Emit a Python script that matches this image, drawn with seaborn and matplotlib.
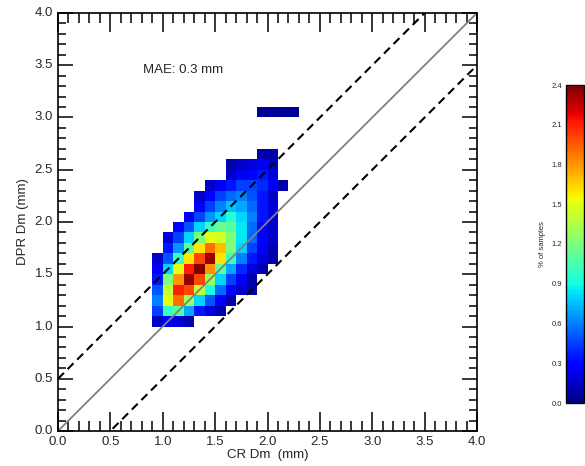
import numpy as np
import matplotlib
matplotlib.use("Agg")
import matplotlib.pyplot as plt
import seaborn as sns

# 2D histogram of Dm, 0.1 mm bins, 0-4 mm on both axes
bin_mm = 0.1
axis_max = 4.0

# each row: lower y edge (mm), lower x edge of first filled bin (mm), % of samples
row_y = [1.0, 1.1, 1.2, 1.3, 1.4, 1.5, 1.6, 1.7, 1.8, 1.9,
         2.0, 2.1, 2.2, 2.3, 2.4, 2.5, 2.6, 3.0]
row_x0 = [0.9, 0.9, 0.9, 0.9, 0.9, 0.9, 0.9, 1.0, 1.0, 1.1,
          1.2, 1.3, 1.3, 1.4, 1.6, 1.6, 1.9, 1.9]
row_pct = [
    [0.15, 0.25, 0.2, 0.1],
    [0.45, 1.0, 1.1, 0.7, 0.35, 0.2, 0.1],
    [0.6, 1.5, 1.9, 1.3, 0.8, 0.5, 0.25, 0.1],
    [0.5, 1.4, 2.1, 2.0, 1.4, 0.9, 0.55, 0.3, 0.15, 0.1],
    [0.35, 1.2, 1.8, 2.35, 2.0, 1.3, 0.8, 0.45, 0.25, 0.1],
    [0.25, 0.8, 1.5, 2.1, 2.4, 1.8, 1.1, 0.7, 0.4, 0.2, 0.1],
    [0.15, 0.5, 1.0, 1.6, 2.0, 2.35, 1.6, 1.0, 0.6, 0.35, 0.2, 0.1],
    [0.35, 0.65, 1.1, 1.6, 1.9, 1.7, 1.2, 0.8, 0.45, 0.25, 0.1],
    [0.2, 0.45, 0.8, 1.2, 1.5, 1.45, 1.2, 0.85, 0.55, 0.3, 0.15],
    [0.3, 0.5, 0.8, 1.0, 1.15, 1.1, 0.85, 0.55, 0.3, 0.15],
    [0.25, 0.45, 0.65, 0.8, 0.95, 0.8, 0.6, 0.35, 0.2],
    [0.3, 0.45, 0.6, 0.75, 0.7, 0.55, 0.35, 0.2],
    [0.15, 0.3, 0.45, 0.55, 0.6, 0.5, 0.35, 0.15],
    [0.15, 0.25, 0.35, 0.45, 0.45, 0.4, 0.25, 0.1],
    [0.15, 0.25, 0.3, 0.35, 0.2],
    [0.1, 0.15, 0.2, 0.25, 0.15],
    [0.1, 0.1],
    [0.05, 0.05, 0.05, 0.05],
]

cb_ticks = [0.0, 0.3, 0.6, 0.9, 1.2, 1.5, 1.8, 2.1, 2.4]
mae_text = "MAE: 0.3 mm"
band_mm = 0.5

n = int(round(axis_max / bin_mm))
grid = np.full((n, n), np.nan)
for y, x0, vals in zip(row_y, row_x0, row_pct):
    i = int(round(y / bin_mm))
    j = int(round(x0 / bin_mm))
    grid[i, j:j + len(vals)] = vals

sns.set_style("white")
plt.rcParams["font.family"] = ["Liberation Sans", "DejaVu Sans"]

fig = plt.figure(figsize=(5.85, 4.66), dpi=100)
ax = fig.add_axes([58 / 585, 35 / 466, 419 / 585, 418 / 466])
cax = fig.add_axes([566 / 585, 63 / 466, 18 / 585, 318 / 466])

sns.heatmap(grid, mask=np.isnan(grid), cmap="jet", vmin=cb_ticks[0], vmax=cb_ticks[-1],
            ax=ax, cbar_ax=cax, cbar_kws={"ticks": cb_ticks, "format": "%.1f"})

ax.set_xlim(0, n)
ax.set_ylim(0, n)
for s in ax.spines.values():
    s.set_visible(True)
    s.set_color("black")
    s.set_linewidth(1.2)

# reference lines: 1:1 and +/- 0.5 mm
lims = np.array([0, axis_max]) / bin_mm
off = band_mm / bin_mm
ax.plot(lims, lims, color="#808080", lw=1.3)
ax.plot(lims, lims + off, color="black", lw=1.5, ls="--", dashes=(4, 2.5))
ax.plot(lims, lims - off, color="black", lw=1.5, ls="--", dashes=(4, 2.5))

major = np.arange(0, n + 1, 5)
labels = [f"{v * bin_mm:.1f}" for v in major]
ax.set_xticks(major)
ax.set_xticklabels(labels, rotation=0)
ax.set_yticks(major)
ax.set_yticklabels(labels, rotation=0, va="center")
ax.set_xticks(np.arange(0, n + 1), minor=True)
ax.set_yticks(np.arange(0, n + 1), minor=True)
ax.tick_params(which="both", direction="in", top=True, right=True,
               bottom=True, left=True, width=1.1, color="black",
               labelsize=9.5, pad=3.5)
ax.tick_params(axis="x", which="major", length=14)
ax.tick_params(axis="x", which="minor", length=7)
ax.tick_params(axis="y", which="major", length=11)
ax.tick_params(axis="y", which="minor", length=5.5)

ax.text(8.1, 34.5, mae_text, fontsize=9.5, va="center", ha="left")
ax.set_xlabel("CR Dm  (mm)", fontsize=9.5, labelpad=1)
ax.set_ylabel("DPR Dm (mm)", fontsize=9.5, labelpad=4)

cb = ax.collections[0].colorbar
cb.outline.set_linewidth(1.0)
cb.outline.set_edgecolor("black")
cax.yaxis.set_ticks_position("left")
cax.yaxis.set_label_position("left")
cax.tick_params(length=0, labelsize=5.5, pad=3)
cax.set_ylabel("% of samples", fontsize=5.5, labelpad=4)

fig.savefig("out.png", dpi=100)
